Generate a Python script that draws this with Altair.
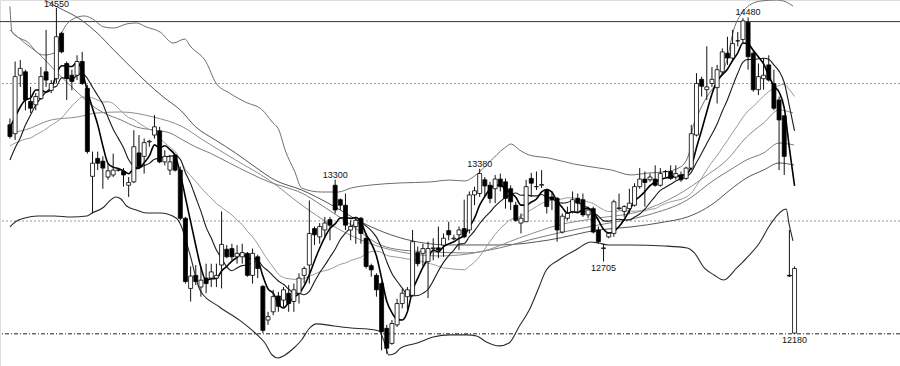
import altair as alt
import pandas as pd

# ---------------- daily candles (index 0 .. 152) ----------------
opens = [13700, 13635, 14060, 14085, 13870, 13845, 13890, 14085, 13950, 14035,
         14365, 14145, 14060, 14060, 14160, 13965, 13325, 13455, 13435, 13320,
         13335, 13370, 13360, 13260, 13285, 13495, 13470, 13575, 13625, 13655,
         13430, 13370, 13480, 13370, 13020, 12510, 12605, 12520, 12585, 12585,
         12585, 12680, 12795, 12800, 12740, 12740, 12765, 12605, 12740, 12525,
         12280, 12340, 12455, 12425, 12475, 12415, 12475, 12605, 12680, 12945,
         12885, 12935, 13010, 13260, 13155, 13115, 12935, 12960, 13020, 12875,
         12675, 12605, 12545, 12220, 12110, 12245, 12400, 12450, 12460, 12770,
         12765, 12705, 12800, 12805, 12825, 12930, 12870, 12900, 12945, 12935,
         13190, 13200, 13300, 13260, 13235, 13305, 13285, 13235, 13115, 12985,
         12995, 13310, 13250, 13260, 13225, 13175, 13165, 12920, 13020, 13070,
         13165, 13155, 13045, 13090, 12935, 12800, 12885, 12910, 13090, 13070,
         13090, 13115, 13250, 13305, 13300, 13305, 13260, 13360, 13360, 13320,
         13335, 13310, 13385, 13625, 14030, 13955, 14000, 13970, 14085, 14220,
         14185, 14310, 14320, 14445, 14220, 13955, 14035, 14135, 14000, 13880,
         13765, 12605, 12185]
highs = [13745, 14160, 14170, 14100, 13975, 13930, 14120, 14390, 14025, 14550,
         14375, 14160, 14100, 14205, 14230, 13990, 13505, 13505, 13470, 13420,
         13490, 13385, 13385, 13320, 13660, 13625, 13600, 13590, 13770, 13685,
         13515, 13480, 13490, 13395, 13030, 12670, 12680, 12670, 12690, 12690,
         12690, 13070, 12825, 12835, 12825, 12835, 12775, 12800, 12755, 12535,
         12340, 12500, 12485, 12520, 12535, 12545, 12620, 12670, 13150, 12960,
         12985, 13030, 13030, 13300, 13165, 13200, 13005, 13030, 13030, 12910,
         12690, 12620, 12560, 12245, 12280, 12435, 12510, 12520, 12935, 12815,
         12835, 12850, 12875, 12960, 12910, 12995, 12900, 12960, 13155, 13215,
         13250, 13380, 13320, 13285, 13335, 13345, 13310, 13260, 13140, 13055,
         13300, 13350, 13360, 13370, 13235, 13215, 13175, 13055, 13105, 13215,
         13200, 13200, 13105, 13105, 12960, 12835, 12920, 13155, 13200, 13115,
         13235, 13275, 13385, 13360, 13345, 13405, 13385, 13370, 13405, 13405,
         13360, 13395, 13700, 14075, 14050, 14270, 14120, 14135, 14255, 14340,
         14390, 14375, 14475, 14480, 14245, 14145, 14185, 14205, 14100, 13905,
         13770, 12935, 12670]
lows = [13600, 13590, 13975, 13805, 13785, 13805, 13880, 13975, 13930, 14000,
        14220, 13880, 13950, 14025, 13990, 13490, 13055, 13370, 13235, 13300,
        13320, 13360, 13250, 13175, 13275, 13385, 13345, 13540, 13600, 13420,
        13405, 13335, 13360, 13005, 12545, 12415, 12535, 12450, 12475, 12520,
        12520, 12510, 12730, 12715, 12690, 12690, 12595, 12545, 12585, 12185,
        12245, 12315, 12340, 12375, 12340, 12340, 12400, 12545, 12545, 12825,
        12835, 12885, 12860, 13055, 13080, 12935, 12860, 12835, 12835, 12655,
        12595, 12450, 12060, 12035, 12100, 12230, 12365, 12355, 12450, 12670,
        12670, 12440, 12715, 12730, 12740, 12860, 12860, 12790, 12875, 12910,
        13115, 13175, 13175, 13130, 13130, 13215, 13090, 13080, 12995, 12910,
        12995, 13175, 13225, 13240, 13055, 13080, 12850, 12910, 13005, 13055,
        13055, 13030, 13020, 12910, 12835, 12705, 12875, 12885, 13080, 13030,
        13055, 13105, 13235, 13105, 13285, 13250, 13250, 13320, 13300, 13300,
        13285, 13300, 13370, 13615, 13905, 13880, 13975, 13855, 14060, 14135,
        14170, 14270, 14290, 14100, 13940, 13915, 13955, 14015, 13805, 13370,
        13335, 12595, 12180]
closes = [13615, 14050, 14110, 13880, 13820, 13905, 14050, 14025, 14000, 14340,
          14230, 14035, 14015, 14160, 14000, 13505, 13420, 13420, 13385, 13365,
          13370, 13370, 13335, 13280, 13540, 13395, 13570, 13580, 13685, 13430,
          13470, 13430, 13370, 13020, 12560, 12600, 12560, 12570, 12545, 12630,
          12605, 12830, 12740, 12740, 12765, 12770, 12605, 12765, 12655, 12205,
          12305, 12450, 12380, 12500, 12400, 12500, 12585, 12655, 12910, 12900,
          12960, 12985, 12970, 13080, 13115, 12970, 12960, 13005, 12910, 12670,
          12645, 12500, 12195, 12075, 12255, 12400, 12475, 12500, 12850, 12690,
          12800, 12800, 12805, 12790, 12875, 12900, 12875, 12935, 12885, 13190,
          13220, 13345, 13255, 13165, 13305, 13250, 13165, 13140, 13005, 13020,
          13250, 13275, 13250, 13265, 13105, 13155, 12935, 13035, 13055, 13155,
          13130, 13045, 13080, 12920, 12850, 12805, 12910, 13140, 13095, 13105,
          13130, 13250, 13305, 13280, 13320, 13260, 13345, 13360, 13310, 13345,
          13300, 13385, 13635, 14000, 13980, 13975, 14030, 14100, 14230, 14185,
          14290, 14310, 14455, 14195, 13955, 14050, 14060, 14025, 13820, 13735,
          13470, 12600, 12655]

# ---------------- moving averages (one value per candle) ----------------
ma5 = [13680, 13756, 13829, 13880,
       13895, 13953, 13953, 13936, 13960, 14064, 14129, 14126, 14124, 14156,
       14088, 13943, 13820, 13701, 13546, 13419, 13392, 13382, 13365, 13344,
       13379, 13384, 13424, 13473, 13554, 13532, 13547, 13519, 13477, 13344,
       13170, 12996, 12822, 12662, 12567, 12581, 12582, 12636, 12670, 12709,
       12736, 12769, 12724, 12729, 12712, 12600, 12507, 12476, 12399, 12368,
       12407, 12446, 12473, 12528, 12610, 12710, 12802, 12882, 12945, 12979,
       13022, 13024, 13019, 13026, 12992, 12903, 12838, 12746, 12584, 12417,
       12334, 12285, 12280, 12341, 12496, 12583, 12663, 12728, 12789, 12777,
       12814, 12834, 12849, 12875, 12894, 12957, 13021, 13115, 13179, 13235,
       13258, 13264, 13228, 13205, 13173, 13116, 13116, 13138, 13160, 13212,
       13229, 13210, 13142, 13099, 13057, 13067, 13062, 13084, 13093, 13066,
       13005, 12940, 12913, 12925, 12960, 13011, 13076, 13144, 13177, 13214,
       13257, 13283, 13302, 13313, 13319, 13324, 13332, 13340, 13395, 13533,
       13660, 13795, 13924, 14017, 14063, 14104, 14167, 14223, 14294, 14287,
       14241, 14193, 14143, 14057, 13982, 13938, 13822, 13530, 13256]
ma10 = [13444, 13531, 13604, 13698, 13771, 13844, 13895, 13938, 13967,
        13980, 14041, 14040, 14030, 14058, 14076, 14036, 13973, 13913, 13851,
        13754, 13668, 13601, 13533, 13445, 13399, 13388, 13403, 13419, 13449,
        13456, 13466, 13472, 13475, 13449, 13351, 13272, 13171, 13070, 12956,
        12876, 12789, 12729, 12666, 12638, 12659, 12676, 12680, 12700, 12711,
        12668, 12638, 12600, 12564, 12540, 12504, 12477, 12475, 12464, 12489,
        12559, 12624, 12678, 12737, 12795, 12866, 12913, 12951, 12986, 12986,
        12963, 12931, 12883, 12805, 12705, 12619, 12562, 12513, 12463, 12457,
        12459, 12474, 12504, 12565, 12637, 12699, 12749, 12789, 12832, 12836,
        12886, 12928, 12982, 13027, 13065, 13108, 13143, 13172, 13192, 13204,
        13187, 13190, 13183, 13183, 13193, 13173, 13163, 13140, 13130, 13135,
        13148, 13136, 13113, 13096, 13062, 13036, 13001, 12999, 13009, 13013,
        13008, 13008, 13029, 13051, 13087, 13134, 13180, 13223, 13245, 13267,
        13291, 13308, 13321, 13354, 13426, 13492, 13564, 13632, 13706, 13798,
        13882, 13981, 14074, 14156, 14175, 14173, 14180, 14183, 14176, 14135,
        14090, 14007, 13836, 13656]
ma20 = [13546, 13567, 13582, 13596, 13604, 13626, 13647, 13669, 13698, 13720,
        13749, 13793, 13836, 13873, 13902, 13902, 13895, 13880, 13865,
        13867, 13854, 13820, 13782, 13752, 13738, 13712, 13688, 13666, 13650,
        13605, 13567, 13536, 13504, 13447, 13375, 13330, 13287, 13244, 13202,
        13166, 13127, 13100, 13071, 13044, 13005, 12974, 12925, 12885, 12833,
        12772, 12714, 12665, 12615, 12589, 12581, 12576, 12577, 12582, 12600,
        12613, 12631, 12639, 12650, 12667, 12685, 12695, 12713, 12725, 12737,
        12761, 12778, 12780, 12771, 12750, 12742, 12737, 12732, 12724, 12721,
        12711, 12703, 12693, 12685, 12671, 12659, 12655, 12651, 12647, 12646,
        12672, 12701, 12743, 12796, 12851, 12903, 12946, 12980, 13012, 13020,
        13036, 13059, 13083, 13105, 13129, 13140, 13153, 13156, 13161, 13169,
        13168, 13163, 13148, 13139, 13127, 13104, 13082, 13069, 13069, 13074,
        13078, 13072, 13071, 13074, 13074, 13085, 13090, 13111, 13127, 13140,
        13149, 13158, 13175, 13203, 13257, 13313, 13372, 13428, 13476, 13532,
        13586, 13644, 13697, 13755, 13801, 13832, 13872, 13908, 13941, 13966,
        13986, 13994, 13955, 13906]

# ---------------- slower averages, sampled along the curve ----------------
ma60_x = [0, 2.9, 8.0, 13.0, 16.9, 21.5, 27.8, 33.5, 37.4, 43.7, 50.2, 56.5, 62.3,
          68.0, 75.7, 83.3, 91.0, 98.7, 106.3, 114.0, 121.6, 129.3, 135.1, 138.9,
          142.7, 146.0, 149.0, 151.7]
ma60_y = [13640, 13662, 13735, 13756, 13786, 13793, 13756, 13684, 13589, 13444,
          13298, 13117, 12971, 12862, 12775, 12746, 12775, 12877, 12971, 13022,
          13066, 13189, 13335, 13444, 13611, 13713, 13807, 13786]
ma90_x = [0, 2.9, 5.4, 9.0, 13.0, 16.3, 18.2, 21.5, 24.5, 27.8, 31.0, 33.5, 36.0,
          38.7, 42.5, 46.4, 50.2, 53.3, 56.5, 60.3, 66.1, 71.8, 75.7, 82.0, 88.5,
          94.8, 100.6, 106.3, 114.0, 123.6, 131.2, 136.4, 139.5, 142.7, 146.0,
          149.0, 151.9]
ma90_y = [14389, 14294, 14222, 14084, 13938, 13829, 13786, 13735, 13684, 13662,
          13640, 13589, 13538, 13495, 13422, 13349, 13284, 13247, 13204, 13117,
          12971, 12826, 12790, 12775, 12768, 12804, 12862, 12913, 12971, 13044,
          13153, 13298, 13371, 13444, 13495, 13567, 13553]
ma120_x = [6.7, 9.2, 13.8, 16.9, 20.1, 23.4, 26.4, 29.7, 33.0, 36.0, 39.8, 43.7,
           47.5, 51.3, 56.5, 62.3, 68.0, 75.7, 85.2, 94.8, 104.4, 114.0, 120.3,
           126.8, 131.2, 133.1, 136.4, 139.5, 142.7, 146.0, 149.0, 151.9]
ma120_y = [14607, 14556, 14462, 14367, 14244, 14120, 14011, 13902, 13807, 13684,
           13589, 13495, 13393, 13298, 13226, 13117, 12993, 12877, 12826, 12826,
           12862, 12935, 12957, 12993, 13029, 13058, 13131, 13226, 13313, 13371,
           13422, 13407]

# ---------------- Bollinger envelope ----------------
bb_up_x = [0, 0.4, 1.5, 3.4, 5.4, 6.7, 8.6, 10.0, 11.9, 14.4, 15.7, 18.2, 20.1,
           22.6, 24.5, 26.4, 29.1, 31.6, 33.9, 34.9, 38.0, 39.9, 42.5, 45.6, 48.9,
           50.8, 52.1, 53.3, 55.2, 56.5, 60.3, 63.6, 66.1, 70.0, 75.7, 81.4, 85.2,
           88.1, 90.0, 92.9, 95.8, 97.1, 98.7, 100.6, 104.4, 109.2, 114.0, 116.5,
           120.3, 123.6, 126.8, 129.9, 131.6, 132.2, 133.1, 135.0, 136.9, 138.9,
           140.2, 141.8, 143.3, 145.6, 148.5, 150.4, 151.7]
bb_up_y = [14560, 14375, 14338, 14302, 14222, 14207, 14222, 14367, 14462, 14491,
           14476, 14411, 14403, 14433, 14440, 14411, 14374, 14294, 14323, 14273,
           14156, 14004, 13931, 13865, 13807, 13720, 13662, 13517, 13357, 13240,
           13211, 13211, 13240, 13262, 13277, 13284, 13298, 13291, 13327, 13429,
           13531, 13560, 13517, 13480, 13458, 13415, 13386, 13371, 13335, 13349,
           13357, 13393, 13495, 13662, 13756, 13902, 14004, 14171, 14389, 14512,
           14571, 14600, 14607, 14592, 14563]
bb_lo_x = [0, 1.0, 2.9, 5.4, 8.6, 11.9, 14.9, 15.9, 18.2, 19.5, 20.5, 21.5, 22.6,
           24.5, 26.4, 29.1, 32.2, 33.1, 34.9, 36.8, 40.6, 44.4, 47.5, 49.4, 50.8,
           51.9, 53.3, 55.2, 56.5, 57.9, 59.4, 62.8, 66.1, 69.3, 71.5, 72.4, 73.4,
           74.7, 75.7, 78.9, 82.0, 85.2, 88.5, 90.4, 92.3, 94.8, 96.7, 98.7, 100.6,
           102.5, 103.8, 106.3, 109.6, 112.6, 114.0, 115.9, 120.3, 126.8, 131.2,
           132.6, 134.5, 136.4, 138.3, 140.8, 142.7, 145.2, 147.1, 149.8, 150.4,
           150.9, 151.7]
bb_lo_y = [12957, 12993, 13022, 13037, 13037, 13029, 13037, 13058, 13102, 13153,
           13175, 13160, 13109, 13080, 13058, 13058, 13022, 12971, 12753, 12499,
           12375, 12281, 12186, 12113, 12026, 12004, 12026, 12084, 12135, 12215,
           12252, 12237, 12222, 12215, 12201, 12135, 12026, 12041, 12077, 12113,
           12157, 12172, 12172, 12164, 12121, 12092, 12113, 12237, 12353, 12520,
           12637, 12717, 12790, 12848, 12840, 12826, 12826, 12819, 12804, 12768,
           12659, 12608, 12571, 12659, 12731, 12840, 12964, 13080, 13088, 12986,
           12855]

# ---------------- reference levels and annotations ----------------
dotted_levels = [14000, 13000]
resistance_level = 14450
support_level = 12180
label_idx = [9, 63, 91, 143, 115, 152]
label_price = [14550, 13300, 13380, 14480, 12705, 12180]
label_text = ["14550", "13300", "13380", "14480", "12705", "12180"]
label_base = ["bottom", "bottom", "bottom", "bottom", "top", "top"]
label_dy = [1.5, 0, 0, 0, 2, 2]

W, H = 900, 366
x_scale = alt.Scale(domain=[-0.958, 171.46], nice=False, zero=False)
y_scale = alt.Scale(domain=[11946, 14607], nice=False, zero=False)
X = lambda f: alt.X(f, type="quantitative", scale=x_scale, axis=None)
Y = lambda f: alt.Y(f, type="quantitative", scale=y_scale, axis=None)

n = len(closes)
candles = pd.DataFrame({"i": list(range(n)), "open": opens, "high": highs,
                        "low": lows, "close": closes})
candles["dir"] = ["up" if c >= o else "down" for o, c in zip(opens, closes)]

# reference lines
grid = alt.Chart(pd.DataFrame({"p": dotted_levels})).mark_rule(
    color="#9a9a9a", strokeWidth=1, strokeDash=[2, 2]).encode(y=Y("p"))
resist = alt.Chart(pd.DataFrame({"p": [resistance_level]})).mark_rule(
    color="#333333", strokeWidth=1).encode(y=Y("p"))
support = alt.Chart(pd.DataFrame({"p": [support_level]})).mark_rule(
    color="#222222", strokeWidth=1, strokeDash=[4, 2, 1, 2]).encode(y=Y("p"))


def curve(xs, ys, color, width):
    df = pd.DataFrame({"i": xs, "p": ys})
    return alt.Chart(df).mark_line(color=color, strokeWidth=width, clip=True,
                                   interpolate="monotone").encode(x=X("i"), y=Y("p"))


idx = list(range(n))
lines = [
    curve(bb_up_x, bb_up_y, "#6e6e6e", 1),
    curve(bb_lo_x, bb_lo_y, "#2a2a2a", 1.1),
    curve(ma120_x, ma120_y, "#555555", 1),
    curve(ma90_x, ma90_y, "#7a7a7a", 1),
    curve(ma60_x, ma60_y, "#8c8c8c", 1),
    curve(idx, ma20, "#9a9a9a", 1),
    curve(idx, ma10, "#1a1a1a", 1.1),
    curve(idx, ma5, "#000000", 1.6),
]

wicks = alt.Chart(candles).mark_rule(color="#111111", strokeWidth=1).encode(
    x=X("i"), y=Y("low"), y2="high")
bodies = alt.Chart(candles).mark_bar(size=4, stroke="#000000", strokeWidth=0.8).encode(
    x=X("i"), y=Y("open"), y2="close",
    fill=alt.Fill("dir:N", scale=alt.Scale(domain=["up", "down"], range=["white", "black"]),
                  legend=None))

# price annotations at the swing highs and lows
labels = []
for k in range(len(label_text)):
    df = pd.DataFrame({"i": [label_idx[k]], "p": [label_price[k]], "t": [label_text[k]]})
    labels.append(alt.Chart(df).mark_text(
        font="Liberation Sans", fontSize=9, color="#111111",
        baseline=label_base[k], dy=label_dy[k]).encode(x=X("i"), y=Y("p"), text="t:N"))

chart = alt.layer(grid, resist, support, *lines, wicks, bodies, *labels).properties(
    width=W, height=H, autosize=alt.AutoSizeParams(type="none"), padding=0
).configure_view(stroke=None).configure(background="white")

chart.save("out.html", embed_options={"renderer": "svg", "actions": False})
